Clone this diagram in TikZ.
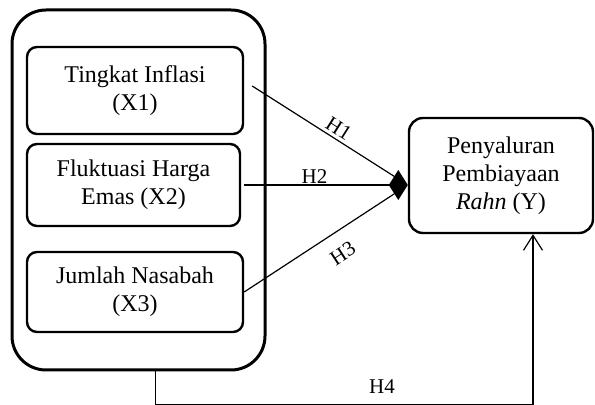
\documentclass[tikz,border=0pt]{standalone}
\usepackage{fontspec}
\setmainfont{Liberation Serif}
\usetikzlibrary{positioning,calc,arrows.meta}

\begin{document}
\begin{tikzpicture}[x=0.5pt,y=-0.5pt,
    varbox/.style={draw, line width=1.2pt, rounded corners=5pt, align=center, font=\fontsize{12}{14}\selectfont},
    link/.style={line width=0.6pt},
    hlab/.style={font=\fontsize{10.5}{12}\selectfont, inner sep=0pt}]
    \useasboundingbox (0,0) rectangle (595,405);
    \node[draw, line width=1.5pt, rounded corners=17pt, minimum width=126.5pt, minimum height=180pt] (grp) at (138.5,190) {};
    \node[varbox, minimum width=108pt, minimum height=43.5pt] (x1) at (135,90.5) {Tingkat Inflasi\\(X1)};
    \node[varbox, minimum width=106.5pt, minimum height=41pt] (x2) at (133.5,185) {Fluktuasi Harga\\Emas (X2)};
    \node[varbox, minimum width=108pt, minimum height=40pt] (x3) at (135,292) {Jumlah Nasabah\\(X3)};
    \node[varbox, rounded corners=7pt, minimum width=92pt, minimum height=57.5pt] (y) at (501,175.5) {Penyaluran\\Pembiayaan\\\textit{Rahn} (Y)};
    \coordinate (hub) at (y.west |- x2.east);
    \draw[link, shorten >=7pt] ($(x1.east)+(8,-4.5)$) -- node[hlab, pos=0.52, above=1.5pt, sloped] {H1} (hub);
    \draw[link, shorten >=7pt] (x3.east) -- node[hlab, pos=0.53, below=7pt, sloped] {H3} (hub);
    \draw[link, -{Diamond[length=9.5pt,width=15pt]}] ($(x2.east)+(3,0)$) -- node[hlab, pos=0.43, above=0.5pt] {H2} (hub);
    \draw[link, -{Straight Barb[length=7.5pt,width=9.5pt]}] ($(grp.south)+(17,0)$) -- ++(0,33) -| node[hlab, pos=0.3, above=5pt] {H4} ($(y.south)+(32,0)$);
\end{tikzpicture}
\end{document}
